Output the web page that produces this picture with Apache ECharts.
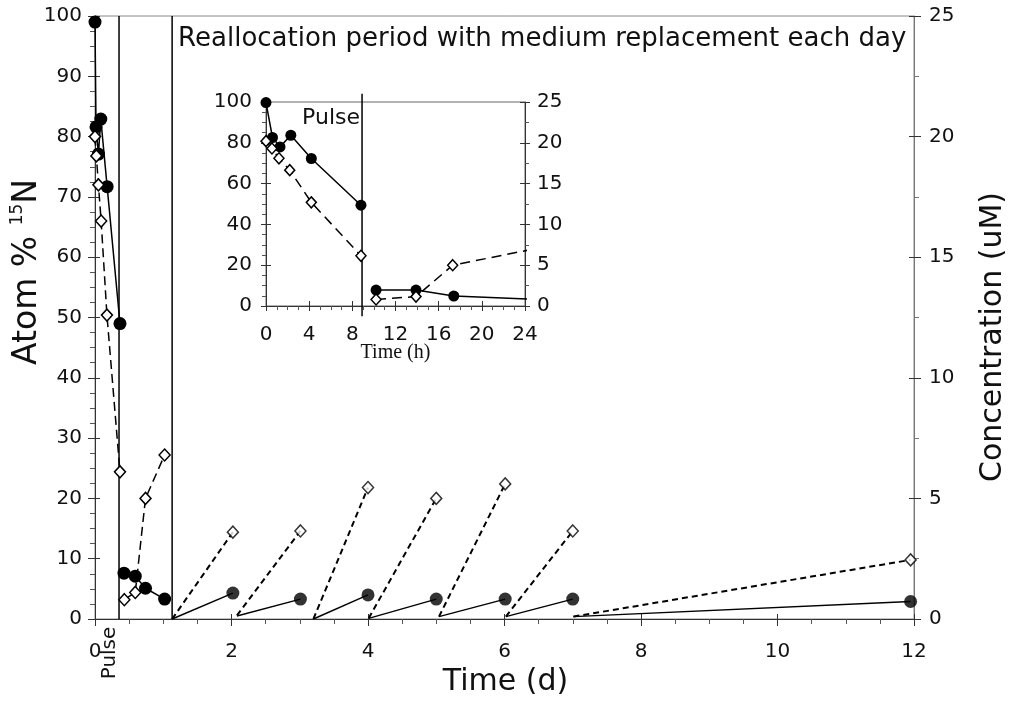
<!DOCTYPE html>
<html><head><meta charset="utf-8">
<script src="https://cdn.jsdelivr.net/npm/echarts@6/dist/echarts.min.js"></script>
<style>html,body{margin:0;padding:0;background:#fff}#c{width:1015px;height:703px}</style>
</head><body><div id="c"></div>
<script>
// ---------- data (main chart, time in days) ----------
const mainPulseCircleDay = [0, 0.015, 0.05, 0.085, 0.178, 0.366];
const mainPulseCircleAtom = [99, 81.6, 77.1, 82.9, 71.7, 49.0];
const mainPostCircleDay = [0.425, 0.59, 0.74, 1.02];
const mainPostCircleAtom = [7.6, 7.1, 5.1, 3.3];
const mainPulseDiamondDay = [0, 0.02, 0.05, 0.09, 0.175, 0.366];
const mainPulseDiamondConc = [20.0, 19.2, 18.0, 16.5, 12.6, 6.1];
const mainPostDiamondDay = [0.43, 0.59, 0.74, 1.02];
const mainPostDiamondConc = [0.8, 1.1, 5.0, 6.8];
const dailyDay = [2.02, 3.01, 4.0, 5.0, 6.01, 7.0, 11.95];
const dailyCircleAtom = [4.3, 3.3, 4.0, 3.3, 3.3, 3.3, 2.9];
const dailyDiamondConc = [3.6, 3.65, 5.45, 5.0, 5.6, 3.65, 2.45];
const replaceDay = [1.13, 2.08, 3.2, 4.01, 5.04, 6.02, 7.01];
const replaceAtom = [0, 0.5, 0, 0.1, 0.4, 0.4, 0.4];
const replaceConc = [0, 0.15, 0, 0.03, 0.1, 0.1, 0.1];
const pulseDay = 0.352;
const reallocDay = 1.13;
// ---------- data (inset, time in hours) ----------
const insetPulseCircleHour = [0, 0.6, 1.3, 2.3, 4.2, 8.8];
const insetPulseCircleAtom = [99.7, 82.6, 78.0, 83.7, 72.3, 49.4];
const insetPostCircleHour = [10.2, 13.9, 17.4, 24.5];
const insetPostCircleAtom = [7.8, 7.8, 4.9, 3.3];
const insetPulseDiamondHour = [0, 0.55, 1.2, 2.2, 4.2, 8.8];
const insetPulseDiamondConc = [20.2, 19.3, 18.1, 16.65, 12.7, 6.15];
const insetPostDiamondHour = [10.2, 13.9, 17.3, 24.5];
const insetPostDiamondConc = [0.8, 1.15, 5.0, 6.9];
const insetPulseHour = 8.9;
// ---------- text ----------
const titleText = 'Reallocation period with medium replacement each day';
const pulseText = 'Pulse';
const xNameMain = 'Time (d)';
const yNameRight = 'Concentration (uM)';
const xNameInset = 'Time (h)';

const FONT = '"DejaVu Sans", sans-serif';
const zip = (a, b) => a.map((v, i) => [v, b[i]]);

function outAxis(o) {
  return Object.assign({
    type: 'value', splitLine: {show: false},
    axisLine: {show: true, onZero: false, lineStyle: {color: '#333', width: 1}},
    axisTick: {show: true, inside: false, length: 7, lineStyle: {color: '#333'}},
    minorTick: {show: true, length: 4, lineStyle: {color: '#555'}},
    axisLabel: {fontFamily: FONT, fontSize: 20, color: '#111'}
  }, o);
}
function inAxis(o) {
  return Object.assign({
    type: 'value', splitLine: {show: false},
    axisLine: {show: false, onZero: false},
    axisTick: {show: true, inside: true, length: 5, lineStyle: {color: '#333'}},
    minorTick: {show: false},
    axisLabel: {show: false}
  }, o);
}

const circleStyle = {symbol: 'circle', itemStyle: {color: '#000'}};
const diamondStyle = {symbol: 'diamond', itemStyle: {color: '#fff', borderColor: '#000', borderWidth: 1.5}};

const series = [];
function lineSeries(data, xi, yi, opts) {
  series.push(Object.assign({
    type: 'line', xAxisIndex: xi, yAxisIndex: yi, data: data,
    animation: false, silent: true, emphasis: {disabled: true},
    lineStyle: {color: '#000', width: 1.5}, showSymbol: true
  }, opts));
}
// main: vertical lines
lineSeries([[pulseDay, 0], [pulseDay, 100]], 0, 0, {symbol: 'none', lineStyle: {color: '#000', width: 1.5}});
lineSeries([[reallocDay, 0], [reallocDay, 100]], 0, 0, {symbol: 'none', lineStyle: {color: '#000', width: 1.5}});
// main daily segments
for (let i = 0; i < replaceDay.length; i++) {
  lineSeries([[replaceDay[i], replaceAtom[i]], [dailyDay[i], dailyCircleAtom[i]]], 0, 0, {symbol: 'none', lineStyle: {color: '#000', width: 1.4}});
  lineSeries([[replaceDay[i], replaceConc[i]], [dailyDay[i], dailyDiamondConc[i]]], 0, 1, {symbol: 'none', lineStyle: {color: '#000', width: 2, type: [6, 4]}});
}
// main pulse & post-pulse
lineSeries(zip(mainPulseCircleDay, mainPulseCircleAtom), 0, 0, Object.assign({symbolSize: 13, z: 3}, circleStyle));
lineSeries(zip(mainPostCircleDay, mainPostCircleAtom), 0, 0, Object.assign({symbolSize: 13, z: 3}, circleStyle));
lineSeries(zip(mainPulseDiamondDay, mainPulseDiamondConc), 0, 1, Object.assign({symbolSize: [11, 12], z: 4, lineStyle: {color: '#000', width: 1.5, type: [9, 5]}}, diamondStyle));
lineSeries(zip(mainPostDiamondDay, mainPostDiamondConc), 0, 1, Object.assign({symbolSize: [11, 12], z: 4, lineStyle: {color: '#000', width: 1.5, type: [9, 5]}}, diamondStyle));
// main daily markers
series.push(Object.assign({type: 'scatter', xAxisIndex: 0, yAxisIndex: 0, data: zip(dailyDay, dailyCircleAtom), symbolSize: 13, z: 5, animation: false, silent: true}, circleStyle));
series.push(Object.assign({type: 'scatter', xAxisIndex: 0, yAxisIndex: 1, data: zip(dailyDay, dailyDiamondConc), symbolSize: [11, 12], z: 6, animation: false, silent: true}, diamondStyle));
// inset
lineSeries([[insetPulseHour, -5], [insetPulseHour, 104]], 2, 4, {symbol: 'none', clip: false, lineStyle: {color: '#000', width: 1.5}});
lineSeries(zip(insetPulseCircleHour, insetPulseCircleAtom), 2, 4, Object.assign({symbolSize: 11, z: 3, clip: true}, circleStyle));
lineSeries(zip(insetPostCircleHour, insetPostCircleAtom), 2, 4, Object.assign({symbolSize: 11, z: 3, clip: true}, circleStyle));
lineSeries(zip(insetPulseDiamondHour, insetPulseDiamondConc), 2, 5, Object.assign({symbolSize: [10, 11], z: 4, clip: true, lineStyle: {color: '#000', width: 1.5, type: [10, 6]}}, diamondStyle));
lineSeries(zip(insetPostDiamondHour, insetPostDiamondConc), 2, 5, Object.assign({symbolSize: [10, 11], z: 4, clip: true, lineStyle: {color: '#000', width: 1.5, type: [10, 6]}}, diamondStyle));

const option = {
  backgroundColor: '#fff',
  animation: false,
  grid: [
    {left: 95, right: 101, top: 16, bottom: 84, show: true, borderColor: '#888', borderWidth: 1, backgroundColor: 'transparent'},
    {left: 266, right: 490, top: 102, bottom: 397, show: true, borderColor: '#666', borderWidth: 1, backgroundColor: 'transparent'}
  ],
  xAxis: [
    outAxis({gridIndex: 0, min: 0, max: 12, interval: 2, position: 'bottom', minorTick: {show: true, splitNumber: 4, length: 5, lineStyle: {color: '#555'}}, axisLabel: {fontFamily: FONT, fontSize: 20, color: '#111', margin: 23}}),
    inAxis({gridIndex: 0, min: 0, max: 12, interval: 2, position: 'bottom'}),
    outAxis({gridIndex: 1, min: 0, max: 24, interval: 4, position: 'bottom', minorTick: {show: true, splitNumber: 4, length: 4, lineStyle: {color: '#555'}}, axisTick: {show: true, length: 5, lineStyle: {color: '#333'}}, axisLabel: {fontFamily: FONT, fontSize: 20, color: '#111', margin: 19}}),
    inAxis({gridIndex: 1, min: 0, max: 24, interval: 4, position: 'bottom'})
  ],
  yAxis: [
    outAxis({gridIndex: 0, min: 0, max: 100, interval: 10, position: 'left', minorTick: {show: true, splitNumber: 4, length: 5, lineStyle: {color: '#555'}}, axisLabel: {fontFamily: FONT, fontSize: 20, color: '#111', margin: 13}}),
    outAxis({gridIndex: 0, min: 0, max: 25, interval: 5, position: 'right', axisLine: {show: true, onZero: false, lineStyle: {color: '#777', width: 1}}, minorTick: {show: true, splitNumber: 2, length: 5, lineStyle: {color: '#777'}}, axisLabel: {fontFamily: FONT, fontSize: 20, color: '#111', margin: 15}}),
    inAxis({gridIndex: 0, min: 0, max: 100, interval: 10, position: 'left'}),
    inAxis({gridIndex: 0, min: 0, max: 25, interval: 5, position: 'right'}),
    outAxis({gridIndex: 1, min: 0, max: 100, interval: 20, position: 'left', minorTick: {show: true, splitNumber: 4, length: 4, lineStyle: {color: '#555'}}, axisTick: {show: true, length: 5, lineStyle: {color: '#333'}}, axisLabel: {fontFamily: FONT, fontSize: 20, color: '#111', margin: 14}}),
    outAxis({gridIndex: 1, min: 0, max: 25, interval: 5, position: 'right', minorTick: {show: true, splitNumber: 2, length: 4, lineStyle: {color: '#555'}}, axisTick: {show: true, length: 5, lineStyle: {color: '#333'}}, axisLabel: {fontFamily: FONT, fontSize: 20, color: '#111', margin: 12}}),
    inAxis({gridIndex: 1, min: 0, max: 100, interval: 20, position: 'left'}),
    inAxis({gridIndex: 1, min: 0, max: 25, interval: 5, position: 'right'})
  ],
  series: series
};

const chart = echarts.init(document.getElementById('c'), null, {renderer: 'canvas'});
chart.setOption(option);

const pPulse = chart.convertToPixel({gridIndex: 0}, [pulseDay, 0]);
const pRealloc = chart.convertToPixel({gridIndex: 0}, [reallocDay, 100]);
const pInsetPulse = chart.convertToPixel({gridIndex: 1}, [insetPulseHour, 92]);
const pInsetXMid = chart.convertToPixel({gridIndex: 1}, [12, 0]);
const pMainMid = chart.convertToPixel({gridIndex: 0}, [6, 50]);

chart.setOption({graphic: [
  {type: 'text', x: pRealloc[0] + 6, y: pRealloc[1] + 23, silent: true,
   style: {text: titleText, font: '26px ' + FONT, fill: '#111', textVerticalAlign: 'middle'}},
  {type: 'text', x: pPulse[0] - 9, y: pPulse[1] + 34, rotation: Math.PI / 2, silent: true,
   style: {text: pulseText, font: '20px ' + FONT, fill: '#111', textAlign: 'center', textVerticalAlign: 'middle'}},
  {type: 'text', x: pInsetPulse[0] - 2, y: pInsetPulse[1], silent: true,
   style: {text: pulseText, font: '22px ' + FONT, fill: '#111', textAlign: 'right', textVerticalAlign: 'middle'}},
  {type: 'text', x: pInsetXMid[0], y: pInsetXMid[1] + 47, silent: true,
   style: {text: xNameInset, font: '20px "Liberation Serif", serif', fill: '#111', textAlign: 'center', textVerticalAlign: 'middle'}},
  {type: 'text', x: pMainMid[0] + 1, y: 682, silent: true,
   style: {text: xNameMain, font: '30px ' + FONT, fill: '#111', textAlign: 'center', textVerticalAlign: 'middle'}},
  {type: 'text', x: 993, y: 337, rotation: Math.PI / 2, silent: true,
   style: {text: yNameRight, font: '30px ' + FONT, fill: '#111', textAlign: 'center', textVerticalAlign: 'middle'}},
  {type: 'text', x: 27, y: 272, rotation: Math.PI / 2, silent: true,
   style: {text: 'Atom % {sup|15}N', fill: '#111', fontFamily: FONT, fontSize: 33, textAlign: 'center', textVerticalAlign: 'middle',
     rich: {sup: {fontFamily: FONT, fontSize: 17, fill: '#111', verticalAlign: 'top', lineHeight: 36}}}}
]});
</script>
</body></html>
